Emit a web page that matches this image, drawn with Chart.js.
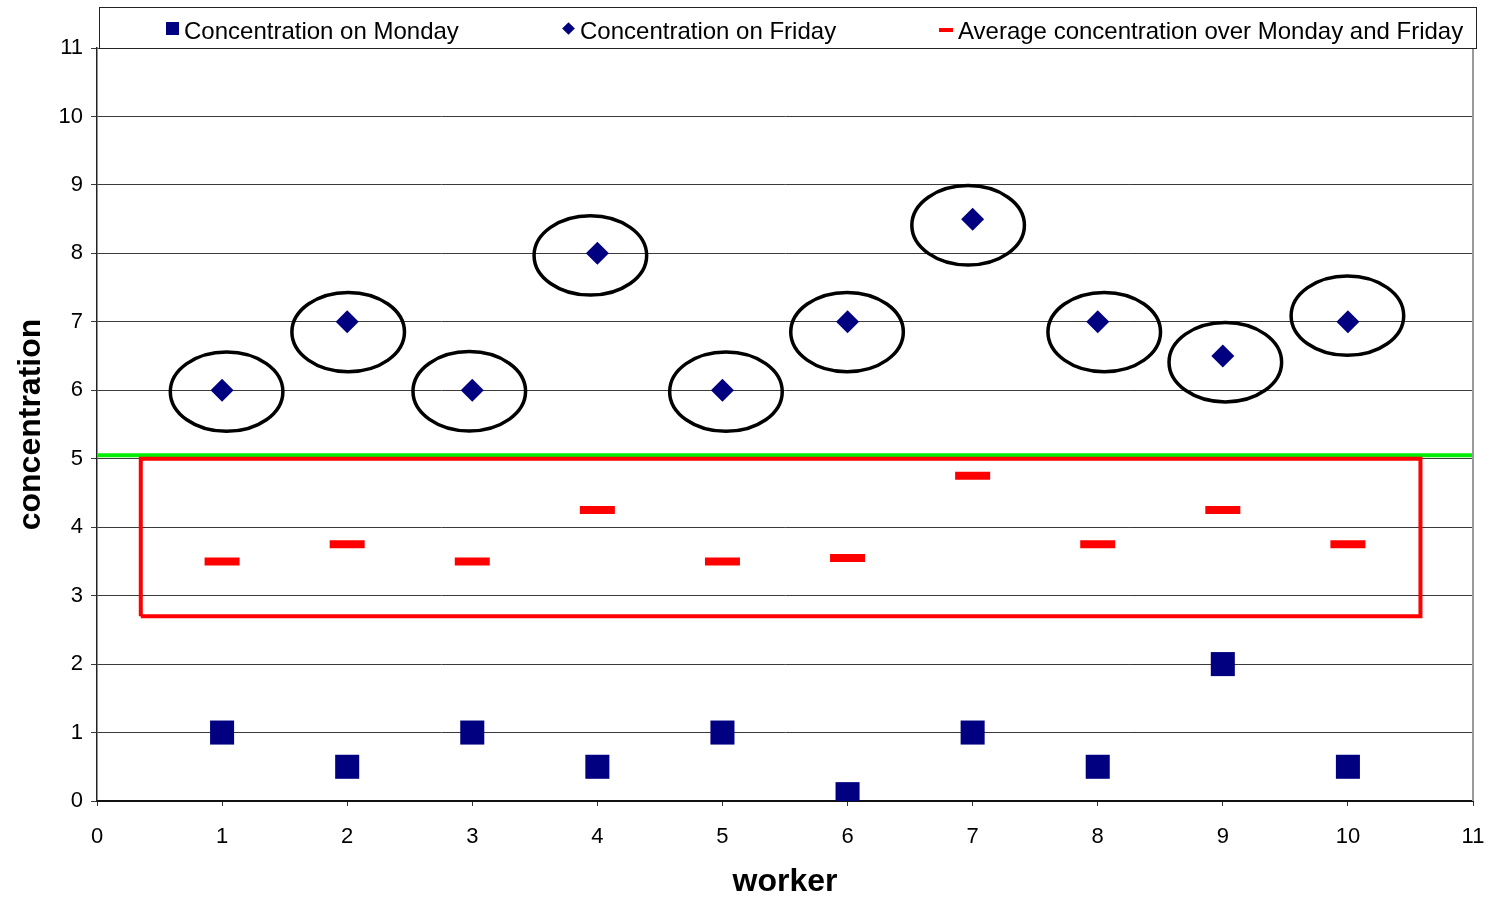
<!DOCTYPE html>
<html>
<head>
<meta charset="utf-8">
<script src="https://cdn.jsdelivr.net/npm/chart.js@4/dist/chart.umd.min.js"></script>
<style>
  html, body { margin: 0; padding: 0; background: #fff; }
  #wrap { position: relative; width: 1491px; height: 897px; }
  #legend {
    position: absolute; left: 99px; top: 7px; width: 1376px; height: 40px;
    border: 1px solid #222; background: #fff;
    font-family: 'Liberation Sans', Arial, sans-serif; font-size: 24px; color: #000;
  }
  .item { position: absolute; top: 3px; height: 40px; line-height: 40px; white-space: nowrap; }
  .mk { position: absolute; }
</style>
</head>
<body>
<div id="wrap">
  <canvas id="chart" width="1491" height="897"></canvas>
  <div id="legend"></div>
</div>
<script>
const workers = [1, 2, 3, 4, 5, 6, 7, 8, 9, 10];
const monday = [1, 0.5, 1, 0.5, 1, 0.1, 1, 0.5, 2, 0.5];
const friday = [6, 7, 6, 8, 6, 7, 8.5, 7, 6.5, 7];
const average = [3.5, 3.75, 3.5, 4.25, 3.5, 3.55, 4.75, 3.75, 4.25, 3.75];
const seriesNames = ['Concentration on Monday', 'Concentration on Friday', 'Average concentration over Monday and Friday'];
const axisTicks = [0, 1, 2, 3, 4, 5, 6, 7, 8, 9, 10, 11];

// hand drawn marks on top of the plot (data units)
const limitLevel = 5.05;
const boxX = [0.35, 10.58];
const boxY = [2.7, 5.0];
const circledX = [1.036, 2.008, 2.976, 3.944, 5.028, 5.996, 6.964, 8.052, 9.02, 9.996];
const circledY = [5.98, 6.85, 5.985, 7.97, 5.98, 6.85, 8.41, 6.85, 6.41, 7.09];

const font = "'Liberation Sans', Arial, sans-serif";
const navy = '#000080';

function pts(ys) {
    return workers.map((w, i) => ({ x: w, y: ys[i] }));
}

// legend
const legend = document.getElementById('legend');
legend.innerHTML =
    '<div class="item" style="left:84px"><span class="mk" style="left:-18px;top:11px;width:13px;height:13px;background:' + navy + '"></span>' + seriesNames[0] + '</div>' +
    '<div class="item" style="left:480px"><span class="mk" style="left:-16px;top:13px;width:9px;height:9px;background:' + navy + ';transform:rotate(45deg)"></span>' + seriesNames[1] + '</div>' +
    '<div class="item" style="left:858px"><span class="mk" style="left:-19px;top:17px;width:14px;height:4px;background:#ff0000"></span>' + seriesNames[2] + '</div>';

const ellipses = {
    id: 'ellipses',
    afterDatasetsDraw(chart) {
        const ctx = chart.ctx;
        const xs = chart.scales.x, ys = chart.scales.y;
        const rx = xs.getPixelForValue(0.45) - xs.getPixelForValue(0);
        const ry = ys.getPixelForValue(0) - ys.getPixelForValue(0.58);
        ctx.save();
        ctx.strokeStyle = '#000';
        ctx.lineWidth = 3.5;
        circledX.forEach((cx, i) => {
            ctx.beginPath();
            ctx.ellipse(xs.getPixelForValue(cx), ys.getPixelForValue(circledY[i]), rx, ry, 0, 0, Math.PI * 2);
            ctx.stroke();
        });
        // right edge of plot area
        const a = chart.chartArea;
        ctx.strokeStyle = '#999';
        ctx.lineWidth = 2;
        ctx.beginPath();
        ctx.moveTo(a.right, a.top);
        ctx.lineTo(a.right, a.bottom);
        ctx.stroke();
        ctx.restore();
    }
};

new Chart(document.getElementById('chart'), {
    type: 'scatter',
    data: {
        datasets: [
            {
                label: seriesNames[0],
                data: pts(monday),
                pointStyle: 'rect',
                pointRadius: 17,
                backgroundColor: navy,
                borderColor: navy,
                borderWidth: 0
            },
            {
                label: seriesNames[1],
                data: pts(friday),
                pointStyle: 'rectRot',
                pointRadius: 11.5,
                backgroundColor: navy,
                borderColor: navy,
                borderWidth: 0
            },
            {
                label: seriesNames[2],
                data: pts(average),
                pointStyle: 'line',
                pointRadius: 17.5,
                borderColor: '#ff0000',
                borderWidth: 8
            },
            {
                type: 'line',
                label: 'box',
                data: [
                    { x: boxX[0], y: boxY[0] }, { x: boxX[1], y: boxY[0] },
                    { x: boxX[1], y: boxY[1] }, { x: boxX[0], y: boxY[1] },
                    { x: boxX[0], y: boxY[0] }
                ],
                borderColor: '#ff0000',
                borderWidth: 4,
                pointRadius: 0,
                fill: false,
                tension: 0
            },
            {
                type: 'line',
                label: 'limit',
                data: [{ x: 0, y: limitLevel }, { x: 11, y: limitLevel }],
                borderColor: '#00ee00',
                borderWidth: 4,
                pointRadius: 0,
                fill: false
            }
        ]
    },
    options: {
        responsive: false,
        animation: false,
        layout: {
            autoPadding: false,
            padding: { left: 0, right: 18, top: 48, bottom: 0 }
        },
        plugins: {
            legend: { display: false },
            tooltip: { enabled: false }
        },
        scales: {
            x: {
                type: 'linear',
                min: 0,
                max: 11,
                afterBuildTicks: s => { s.ticks = axisTicks.map(v => ({ value: v })); },
                afterFit: s => { s.height = 96; s.paddingLeft = 0; s.paddingRight = 0; },
                grid: { drawOnChartArea: false, tickLength: 5, color: '#333' },
                border: { color: '#111', width: 2 },
                ticks: { color: '#000', padding: 18, font: { family: font, size: 22 } },
                title: {
                    display: true,
                    text: 'worker',
                    color: '#000',
                    padding: { top: 0, bottom: -4 },
                    font: { family: font, size: 32, weight: 'bold' }
                }
            },
            y: {
                type: 'linear',
                min: 0,
                max: 11,
                afterBuildTicks: s => { s.ticks = axisTicks.map(v => ({ value: v })); },
                afterFit: s => { s.width = 97; },
                grid: { color: '#3a3a3a', lineWidth: 1, tickLength: 6 },
                border: { color: '#222', width: 1.5 },
                ticks: { color: '#000', padding: 8, font: { family: font, size: 22 } },
                title: {
                    display: true,
                    text: 'concentration',
                    color: '#000',
                    padding: { top: 12, bottom: 0 },
                    font: { family: font, size: 32, weight: 'bold' }
                }
            }
        }
    },
    plugins: [ellipses]
});
</script>
</body>
</html>
